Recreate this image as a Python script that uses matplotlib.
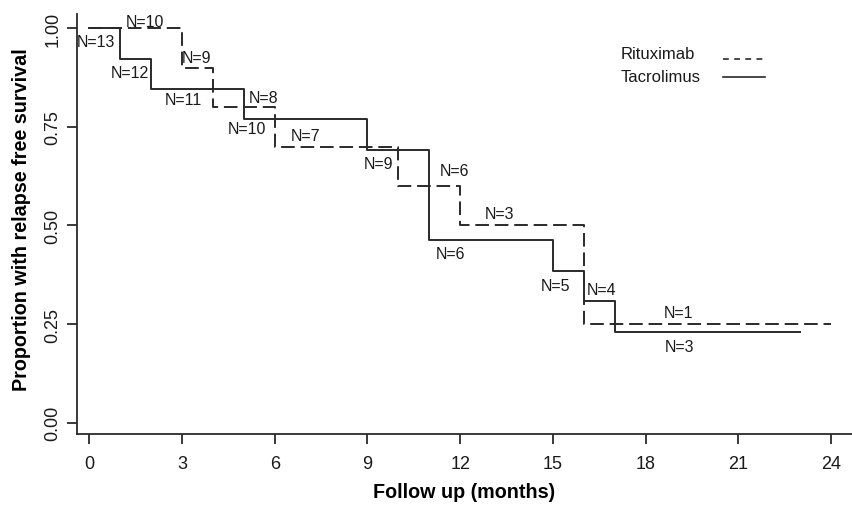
import matplotlib
matplotlib.use('Agg')
import matplotlib.pyplot as plt

plt.rcParams['font.family'] = ['Liberation Sans', 'DejaVu Sans']

# Kaplan-Meier step data
ritux_months = [0, 3, 4, 6, 10, 12, 16, 24]
ritux_surv = [1.0, 0.9, 0.8, 0.7, 0.6, 0.5, 0.25, 0.25]

tacro_months = [0, 1, 2, 5, 9, 11, 15, 16, 17, 23]
tacro_surv = [1.0, 0.923, 0.846, 0.769, 0.692, 0.462, 0.385, 0.308, 0.231, 0.231]

# numbers at risk labels: (month, proportion, text)
risk_labels = [
    (0.22, 0.966, 'N=13'), (1.81, 1.018, 'N=10'), (3.48, 0.927, 'N=9'),
    (1.32, 0.887, 'N=12'), (3.04, 0.819, 'N=11'), (5.65, 0.825, 'N=8'),
    (5.11, 0.745, 'N=10'), (6.98, 0.728, 'N=7'), (9.35, 0.656, 'N=9'),
    (11.8, 0.639, 'N=6'), (13.27, 0.531, 'N=3'), (11.67, 0.429, 'N=6'),
    (15.07, 0.348, 'N=5'), (16.58, 0.338, 'N=4'), (19.06, 0.280, 'N=1'),
    (19.08, 0.192, 'N=3'),
]

x_ticks = [0, 3, 6, 9, 12, 15, 18, 21, 24]
y_ticks = [0.0, 0.25, 0.5, 0.75, 1.0]
y_ticklabels = ['0.00', '0.25', '0.50', '0.75', '1.00']

ink = '#2a2a2a'

fig = plt.figure(figsize=(8.53, 5.06), dpi=100)
ax = fig.add_axes([77 / 853, 1 - 435 / 506, 776 / 853, 420 / 506])

ax.step(ritux_months, ritux_surv, where='post', color=ink, lw=1.4,
        linestyle=(0, (7, 3)))
ax.step(tacro_months, tacro_surv, where='post', color=ink, lw=1.4)

for x, y, s in risk_labels:
    ax.text(x, y, s, fontsize=11.5, ha='center', va='center', color='#1a1a1a')

# legend drawn by hand: text first, line sample after it
ax.text(0.700, 0.905, 'Rituximab', transform=ax.transAxes, fontsize=12,
        va='center', ha='left', color='#1a1a1a')
ax.text(0.700, 0.852, 'Tacrolimus', transform=ax.transAxes, fontsize=12,
        va='center', ha='left', color='#1a1a1a')
ax.plot([0.832, 0.886], [0.894, 0.894], transform=ax.transAxes, color=ink,
        lw=1.2, linestyle=(0, (3.5, 3.2)))
ax.plot([0.832, 0.886], [0.851, 0.851], transform=ax.transAxes, color=ink, lw=1.2)

ax.set_xlim(-0.4, 24.71)
ax.set_ylim(-0.0287, 1.0363)
ax.set_xticks(x_ticks)
ax.set_yticks(y_ticks)
ax.set_yticklabels(y_ticklabels, rotation=90, va='center')

ax.spines['top'].set_visible(False)
ax.spines['right'].set_visible(False)
for side in ['left', 'bottom']:
    ax.spines[side].set_color(ink)
    ax.spines[side].set_linewidth(1.3)
ax.tick_params(axis='both', direction='out', length=7, width=1.3, colors=ink,
               labelsize=13, labelcolor='#1a1a1a')
ax.tick_params(axis='x', pad=8)
ax.tick_params(axis='y', pad=4)

ax.set_xlabel('Follow up (months)', fontsize=14.2, fontweight='bold', va='center')
ax.xaxis.set_label_coords(0.499, -0.138)
ax.set_ylabel('Proportion with relapse free survival', fontsize=14.2,
              fontweight='bold', va='center')
ax.yaxis.set_label_coords(-0.072, 0.512)

fig.savefig('out.png', dpi=100, facecolor='white')
